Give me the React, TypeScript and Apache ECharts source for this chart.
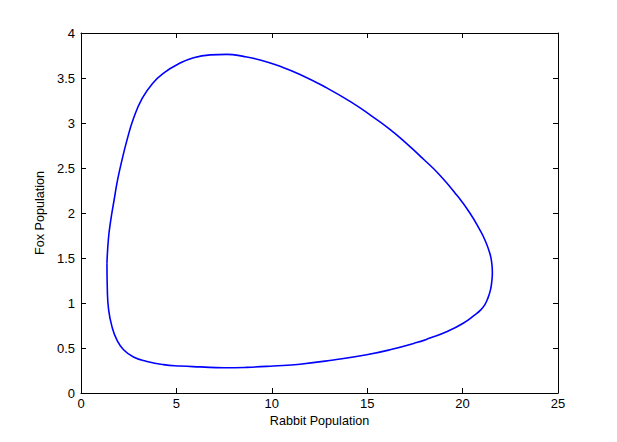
import React, { useEffect, useRef } from "react";
import * as echarts from "echarts";

const rabbit = [
  1.36, 1.38, 1.45, 1.62, 1.88, 2.23, 2.75, 3.46, 4.32, 5.2, 6.25, 7.47, 8.69, 10.08, 11.48, 13.23,
  14.97, 16.19, 17.59, 18.29, 19.16, 20.03, 20.64, 20.91, 21.16, 21.33, 21.46, 21.53, 21.56, 21.53,
  21.43, 21.17, 20.91, 20.38, 19.69, 18.81, 17.94, 17.07, 16.19, 15.15, 14.1, 12.88, 11.48, 10.43,
  9.39, 8.51, 7.64, 6.77, 5.9, 5.1, 4.4, 3.75, 3.2, 2.75, 2.41, 2.15, 1.92, 1.74, 1.56, 1.44, 1.36,
];
const fox = [
  1.44, 1.15, 0.92, 0.74, 0.59, 0.48, 0.4, 0.35, 0.315, 0.3, 0.29, 0.28, 0.285, 0.3, 0.32, 0.367,
  0.425, 0.48, 0.56, 0.61, 0.68, 0.775, 0.868, 0.915, 0.98, 1.057, 1.146, 1.24, 1.34, 1.44, 1.55,
  1.7, 1.81, 2.0, 2.2, 2.42, 2.6, 2.77, 2.93, 3.09, 3.24, 3.39, 3.54, 3.63, 3.7, 3.74, 3.763, 3.757,
  3.725, 3.655, 3.565, 3.44, 3.27, 3.05, 2.81, 2.59, 2.37, 2.15, 1.92, 1.72, 1.44,
];

const xTicks = { min: 0, max: 25, interval: 5 };
const yTicks = { min: 0, max: 4, interval: 0.5 };

const FONT = "Liberation Sans, Arial, sans-serif";

export default function App() {
  const ref = useRef<HTMLDivElement>(null);
  useEffect(() => {
    if (!ref.current) return;
    const chart = echarts.init(ref.current, null, { renderer: "svg" });
    const axisLine = { show: true, onZero: false, lineStyle: { color: "#000", width: 1 } };
    const tick = { show: true, inside: true, length: 5, lineStyle: { color: "#000" } };
    const data = rabbit.map((r, i) => [r, fox[i]]);
    chart.setOption({
      animation: false,
      backgroundColor: "#fff",
      grid: { left: 81, right: 59, top: 33, bottom: 49, containLabel: false },
      xAxis: [
        {
          type: "value",
          ...xTicks,
          position: "bottom",
          axisLine,
          axisTick: tick,
          splitLine: { show: false },
          axisLabel: { color: "#000", fontFamily: FONT, fontSize: 13, margin: 4 },
          name: "Rabbit Population",
          nameLocation: "middle",
          nameGap: 21,
          nameTextStyle: { color: "#000", fontFamily: FONT, fontSize: 12.6 },
        },
        {
          type: "value",
          ...xTicks,
          position: "top",
          axisLine,
          axisTick: tick,
          splitLine: { show: false },
          axisLabel: { show: false },
        },
      ],
      yAxis: [
        {
          type: "value",
          ...yTicks,
          position: "left",
          axisLine,
          axisTick: tick,
          splitLine: { show: false },
          axisLabel: { color: "#000", fontFamily: FONT, fontSize: 13, margin: 6 },
          name: "Fox Population",
          nameLocation: "middle",
          nameGap: 27,
          nameTextStyle: { color: "#000", fontFamily: FONT, fontSize: 12.6 },
        },
        {
          type: "value",
          ...yTicks,
          position: "right",
          axisLine,
          axisTick: tick,
          splitLine: { show: false },
          axisLabel: { show: false },
        },
      ],
      series: [
        {
          type: "line",
          xAxisIndex: 0,
          yAxisIndex: 0,
          data,
          showSymbol: false,
          symbol: "none",
          smooth: 0.5,
          lineStyle: { color: "#0000ff", width: 1.6 },
        },
      ],
    });
    return () => chart.dispose();
  }, []);
  return <div ref={ref} style={{ width: 617, height: 442, margin: -8 }} />;
}
